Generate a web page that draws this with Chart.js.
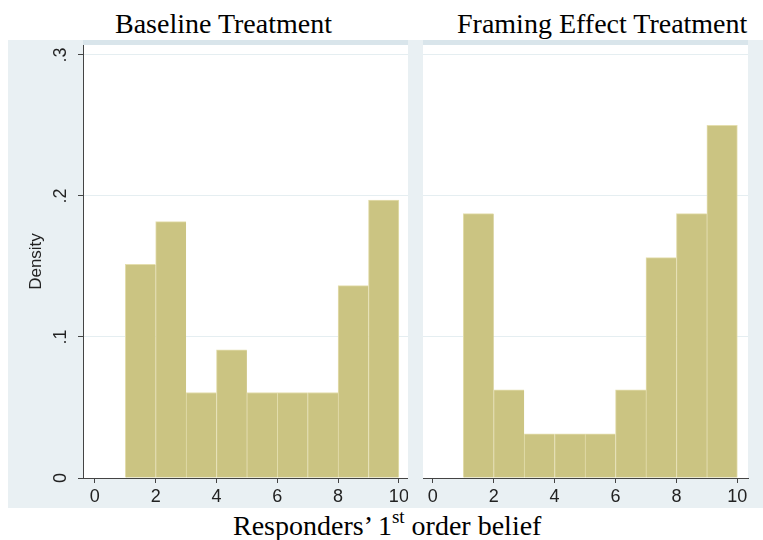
<!DOCTYPE html>
<html><head><meta charset="utf-8">
<script src="https://cdn.jsdelivr.net/npm/chart.js@4/dist/chart.umd.min.js"></script>
<style>
html,body{margin:0;padding:0;background:#fff;}
#wrap{position:relative;width:763px;height:540px;overflow:hidden;background:#fff;}
#panel{position:absolute;left:8px;top:40px;width:755px;height:468px;background:#e9f0f3;}
canvas{position:absolute;}
.title{position:absolute;font-family:'Liberation Serif','Times New Roman',serif;font-size:28px;line-height:28px;color:#000;white-space:nowrap;}
.title sup{font-size:19px;line-height:0;vertical-align:12px;}
</style></head><body>
<div id="wrap">
  <div id="panel"></div>
  <div class="title" id="t1" style="left:115px;top:9.5px"></div>
  <div class="title" id="t2" style="left:457px;top:9.5px"></div>
  <div class="title" id="xt" style="left:233px;top:511.5px"></div>
  <canvas id="c1" width="400" height="468" style="left:8px;top:40px;width:400px;height:468px"></canvas>
  <canvas id="c2" width="355" height="468" style="left:408px;top:40px;width:355px;height:468px"></canvas>
</div>
<script>
// ---- data ----
const binCenters = [1.5, 2.5, 3.5, 4.5, 5.5, 6.5, 7.5, 8.5, 9.5];
const baselineDensity = [0.1515, 0.1818, 0.0606, 0.0909, 0.0606, 0.0606, 0.0606, 0.1364, 0.1970];
const framingDensity = [0.1875, 0.0625, 0.03125, 0.03125, 0.03125, 0.0625, 0.15625, 0.1875, 0.25];
const xTicks = [0, 2, 4, 6, 8, 10];
const yTicks = [0, 0.1, 0.2, 0.3];
const yTickLabels = ['0', '.1', '.2', '.3'];
const panelTitles = ['Baseline Treatment', 'Framing Effect Treatment'];
const yAxisTitle = 'Density';
const xTitleMain = 'Responders\u2019 1';
const xTitleSup = 'st';
const xTitleEnd = ' order belief';

document.getElementById('t1').textContent = panelTitles[0];
document.getElementById('t2').textContent = panelTitles[1];
const xt = document.getElementById('xt');
xt.appendChild(document.createTextNode(xTitleMain));
const sup = document.createElement('sup'); sup.textContent = xTitleSup; xt.appendChild(sup);
xt.appendChild(document.createTextNode(xTitleEnd));

const tickFont = {family: "'Liberation Sans Narrow','Arial Narrow','Liberation Sans',Arial,sans-serif", size: 18};
const AXIS = '#444';
const GRID = '#e5eef1';

const plotBg = {
  id: 'plotBg',
  beforeDraw(chart) {
    const {ctx, chartArea: a} = chart;
    ctx.save();
    ctx.fillStyle = '#ffffff';
    ctx.fillRect(a.left, a.top, a.right - a.left, a.bottom - a.top);
    ctx.fillStyle = '#d9e5eb';
    ctx.fillRect(a.left, 0, a.right - a.left, a.top);
    ctx.restore();
  }
};

function makeChart(id, values, showY, xMin, xMax, padLeft, padRight) {
  const last = values.length - 1;
  return new Chart(document.getElementById(id), {
    type: 'bar',
    data: {
      datasets: [{
        data: binCenters.map((x, i) => ({x: x, y: values[i]})),
        backgroundColor: '#cbc482',
        borderColor: '#e4deae',
        borderWidth: c => ({top: 1, left: 1, bottom: 0, right: c.dataIndex === last ? 1 : 0}),
        borderSkipped: false,
        barPercentage: 1,
        categoryPercentage: 1
      }]
    },
    options: {
      responsive: false,
      animation: false,
      events: [],
      layout: {padding: {top: 5, left: padLeft, right: padRight, bottom: 0}},
      plugins: {legend: {display: false}, tooltip: {enabled: false}},
      scales: {
        x: {
          type: 'linear', min: xMin, max: xMax, offset: false,
          afterBuildTicks: s => { s.ticks = xTicks.map(v => ({value: v})); },
          afterFit: s => { s.height = 30; s.paddingLeft = 0; s.paddingRight = 0; },
          grid: {offset: false, drawOnChartArea: false, drawTicks: true, tickLength: 5, tickColor: AXIS, color: AXIS},
          border: {display: true, color: AXIS, width: 1},
          ticks: {autoSkip: false, minRotation: 0, maxRotation: 0, padding: 3, color: '#222', font: tickFont,
                  callback: v => String(v)}
        },
        y: {
          type: 'linear', min: 0, max: 0.307,
          afterBuildTicks: s => { s.ticks = yTicks.map(v => ({value: v})); },
          afterFit: s => { s.width = showY ? 75 : 0; s.paddingTop = 0; s.paddingBottom = 0; },
          grid: {color: c => (c.tick && c.tick.value === 0) ? 'rgba(0,0,0,0)' : GRID,
                 drawTicks: showY, tickLength: 5, tickColor: AXIS, lineWidth: 1},
          border: {display: showY, color: AXIS, width: 1},
          ticks: {display: showY, minRotation: 90, maxRotation: 90, crossAlign: 'center', padding: 9,
                  color: '#222', font: tickFont,
                  callback: v => yTickLabels[yTicks.indexOf(v)]},
          title: {display: showY, text: yAxisTitle, color: '#222',
                  font: {family: "'Liberation Sans',Arial,sans-serif", size: 17},
                  padding: {top: 18, bottom: 0}}
        }
      }
    },
    plugins: [plotBg]
  });
}

makeChart('c1', baselineDensity, true, -0.39, 10.3, 0, 0);
makeChart('c2', framingDensity, false, -0.32, 10.35, 15, 15);
</script>
</body></html>
